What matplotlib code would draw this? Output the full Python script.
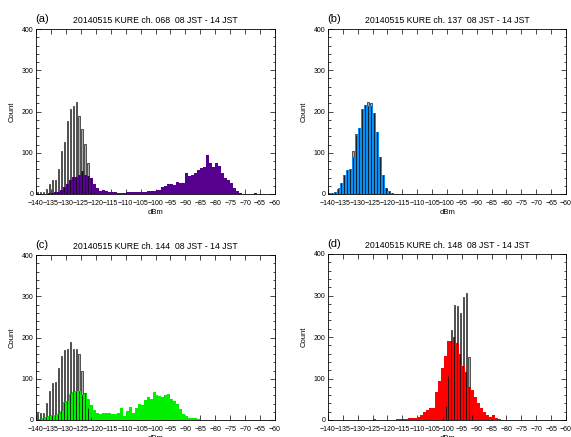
import numpy as np
import matplotlib.pyplot as plt
from matplotlib.ticker import MultipleLocator

plt.rcParams['font.family'] = ['Liberation Sans', 'DejaVu Sans']

# 1 dBm bins from -140 to -60 dBm; every series below starts at its *_start bin
bin_lo, bin_hi = -140, -60

titles = ["20140515 KURE ch. 068  08 JST - 14 JST",
          "20140515 KURE ch. 137  08 JST - 14 JST",
          "20140515 KURE ch. 144  08 JST - 14 JST",
          "20140515 KURE ch. 148  08 JST - 14 JST"]
panel_tags = ["(a)", "(b)", "(c)", "(d)"]
fill_colors = ["#55008f", "#0a8ff0", "#00f000", "#ff0000"]

# ch. 068
ch068_start = -140
ch068_count = [0, 0, 0, 1, 2, 3, 4, 6, 10, 18, 24, 34, 41, 42, 45, 55, 47, 43, 38, 24,
               14, 7, 9, 8, 6, 5, 4, 3, 2, 3, 4, 6, 6, 5, 4, 6, 5, 8, 7, 8,
               9, 10, 18, 20, 24, 24, 22, 30, 27, 26, 52, 44, 45, 50, 58, 64, 66, 95, 75, 66,
               76, 68, 52, 38, 34, 26, 14, 7, 3, 1, 0, 0, 0, 2]
ch068_ref_start = -140
ch068_ref = [4, 4, 4, 13, 25, 35, 33, 60, 105, 125, 178, 205, 213, 223, 188, 158, 121, 74, 39, 6]

# ch. 137
ch137_start = -140
ch137_count = [3, 2, 6, 12, 27, 47, 57, 61, 90, 142, 160, 205, 215, 213, 214, 196, 150, 90, 45, 14,
               8, 3, 1, 1, 1, 1, 0, 0, 1, 0, 1]
ch137_ref_start = -140
ch137_ref = [3, 2, 6, 14, 27, 47, 57, 61, 105, 145, 160, 205, 215, 223, 220, 196, 150, 90, 45, 14,
             8, 3]

# ch. 144
ch144_start = -140
ch144_count = [0, 3, 5, 8, 10, 12, 13, 15, 22, 44, 46, 64, 68, 70, 71, 60, 64, 50, 36, 24,
               16, 14, 17, 17, 16, 15, 15, 16, 28, 10, 22, 32, 18, 28, 40, 36, 48, 56, 52, 68,
               60, 58, 55, 60, 64, 50, 46, 40, 26, 15, 10, 6, 5, 4, 3, 1, 1]
ch144_ref_start = -140
ch144_ref = [16, 16, 16, 42, 71, 89, 92, 125, 155, 170, 172, 190, 172, 172, 159, 120, 66, 30, 8]

# ch. 148
ch148_start = -126
ch148_count = [0, 3, 0, 0, 0, 1, 1, 1, 1, 2, 2, 2, 3, 5, 4, 5, 8, 12, 20, 25,
               28, 30, 68, 95, 125, 155, 190, 190, 200, 185, 160, 130, 116, 80, 72, 56, 40, 28, 20, 12,
               8, 12, 5, 2, 1, 1, 1, 0, 1]
ch148_ref_start = -102
ch148_ref = [8, 34, 105, 218, 278, 274, 258, 296, 306, 152, 12]

fill_series = [(ch068_start, ch068_count), (ch137_start, ch137_count),
               (ch144_start, ch144_count), (ch148_start, ch148_count)]
ref_series = [(ch068_ref_start, ch068_ref), (ch137_ref_start, ch137_ref),
              (ch144_ref_start, ch144_ref), (ch148_ref_start, ch148_ref)]

edges = np.arange(bin_lo, bin_hi + 1)
centers = edges[:-1] + 0.5


def on_grid(start, values):
    arr = np.zeros(len(centers))
    i0 = start - bin_lo
    arr[i0:i0 + len(values)] = values
    return arr


W, H = 571, 437
fig = plt.figure(figsize=(W / 100, H / 100), dpi=100)

# axes boxes in pixels: left, top, right, bottom
boxes = [(36, 29, 275, 194), (328, 29, 566, 194),
         (36, 255, 275, 420), (328, 254, 566, 420)]

for k, (l, t, r, b) in enumerate(boxes):
    ax = fig.add_axes([l / W, 1 - b / H, (r - l) / W, (b - t) / H])
    fill = on_grid(*fill_series[k])
    ref = on_grid(*ref_series[k])

    ax.bar(centers, ref, width=0.55, color="#b0b0b0", edgecolor="#1a1a1a",
           linewidth=0.5, zorder=1)
    ax.stairs(fill, edges, fill=True, color=fill_colors[k], zorder=2)
    shown = ref > 0
    ax.vlines(centers[shown], 0, np.minimum(ref, fill)[shown], color="#111111",
              linewidth=0.6, zorder=3)

    ax.set_xlim(bin_lo, bin_hi)
    ax.set_ylim(0, 400)
    ax.xaxis.set_major_locator(MultipleLocator(5))
    ax.yaxis.set_major_locator(MultipleLocator(100))
    ax.yaxis.set_minor_locator(MultipleLocator(20))
    ax.tick_params(which="both", direction="in", top=True, right=True,
                   labelsize=5.0, width=0.5)
    ax.tick_params(axis="x", pad=4)
    ax.tick_params(axis="y", pad=2)
    ax.tick_params(which="major", length=3.5)
    ax.tick_params(which="minor", length=1.8)
    for s in ax.spines.values():
        s.set_linewidth(0.6)

    ax.set_xlabel("dBm", fontsize=5.5, labelpad=1.8)
    ax.set_ylabel("Count", fontsize=5.5, labelpad=4)
    ax.set_title(titles[k], fontsize=6.3, pad=4.5)
    ax.text(-0.003, 1.03, panel_tags[k], transform=ax.transAxes, fontsize=8,
            ha="left", va="bottom")

fig.savefig("out.png", dpi=100)
